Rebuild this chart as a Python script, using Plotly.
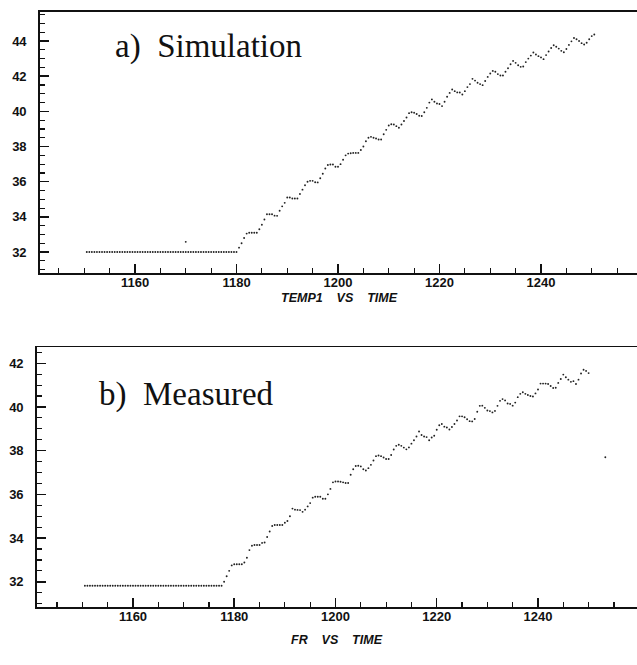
import plotly.graph_objects as go

# ---------------- data ----------------
t0_a = 1150.5
t0_b = 1150.5
dt = 0.5

temp1_flat = [
    32.0, 32.0, 32.0, 32.0, 32.0, 32.0, 32.0, 32.0, 32.0, 32.0,
    32.0, 32.0, 32.0, 32.0, 32.0, 32.0, 32.0, 32.0, 32.0, 32.0,
    32.0, 32.0, 32.0, 32.0, 32.0, 32.0, 32.0, 32.0, 32.0, 32.0,
    32.0, 32.0, 32.0, 32.0, 32.0, 32.0, 32.0, 32.0, 32.0, 32.0,
    32.0, 32.0, 32.0, 32.0, 32.0, 32.0, 32.0, 32.0, 32.0, 32.0,
    32.0, 32.0, 32.0, 32.0, 32.0, 32.0, 32.0, 32.0, 32.0,
]
temp1_rise = [
    32.0, 32.25, 32.5, 32.8, 33.05, 33.1, 33.1, 33.1, 33.1,
    33.3, 33.55, 33.85, 34.15,
    34.15, 34.15, 34.07, 34.06,
    34.35, 34.6, 34.8, 35.1,
    35.1, 35.05, 35.05, 35.05,
    35.3, 35.55, 35.8, 36.0,
    36.05, 36.05, 35.97, 35.96,
    36.2, 36.45, 36.75, 36.95,
    36.98, 36.98, 36.85, 36.85,
    37.0, 37.25, 37.5, 37.6,
    37.62, 37.64, 37.64, 37.64,
    37.8, 38.0, 38.3, 38.5,
    38.55, 38.5, 38.46, 38.4,
    38.4, 38.7, 38.95, 39.2,
    39.27, 39.25, 39.16, 39.07,
    39.25, 39.45, 39.65, 39.9,
    39.95, 39.92, 39.85, 39.75,
    39.74, 39.95, 40.2, 40.5,
    40.68, 40.55, 40.45, 40.42,
    40.3, 40.55, 40.83, 41.05,
    41.24, 41.15, 41.08, 41.07,
    40.96, 41.15, 41.38, 41.55,
    41.85, 41.75, 41.63, 41.55,
    41.49, 41.73, 41.96, 42.15,
    42.3, 42.25, 42.12, 42.04,
    42.04, 42.25, 42.45, 42.68,
    42.87, 42.76, 42.62, 42.53,
    42.55, 42.8, 43.0, 43.17,
    43.35, 43.23, 43.14, 43.07,
    42.97, 43.2, 43.4, 43.6,
    43.76, 43.67, 43.57, 43.44,
    43.36, 43.55, 43.78, 43.98,
    44.17, 44.1, 44.0, 43.88,
    43.8, 43.9, 44.1, 44.28,
    44.37,
]
temp1 = temp1_flat + temp1_rise
spike_a_time = [1170.0]
spike_a_val = [32.58]

fr_flat = [
    31.82, 31.82, 31.82, 31.82, 31.82, 31.82, 31.82, 31.82, 31.82, 31.82,
    31.82, 31.82, 31.82, 31.82, 31.82, 31.82, 31.82, 31.82, 31.82, 31.82,
    31.82, 31.82, 31.82, 31.82, 31.82, 31.82, 31.82, 31.82, 31.82, 31.82,
    31.82, 31.82, 31.82, 31.82, 31.82, 31.82, 31.82, 31.82, 31.82, 31.82,
    31.82, 31.82, 31.82, 31.82, 31.82, 31.82, 31.82, 31.82, 31.82, 31.82,
    31.82, 31.82, 31.82, 31.82, 31.82,
]
fr_rise = [
    32.0, 32.25, 32.5, 32.75, 32.8,
    32.8, 32.8, 32.8, 32.88,
    33.1, 33.45, 33.65, 33.68,
    33.68, 33.68, 33.78, 33.8,
    34.05, 34.3, 34.55, 34.6,
    34.6, 34.6, 34.6, 34.7,
    34.78, 35.0, 35.35, 35.3,
    35.29, 35.28, 35.2, 35.3,
    35.45, 35.6, 35.85, 35.89,
    35.89, 35.89, 35.8, 35.8,
    36.0, 36.25, 36.55, 36.59,
    36.59, 36.58, 36.55, 36.52,
    36.52, 36.9, 37.15, 37.3,
    37.31, 37.28, 37.15, 37.09,
    37.2, 37.35, 37.55, 37.75,
    37.78, 37.75, 37.69, 37.62,
    37.62, 37.8, 38.05, 38.22,
    38.27, 38.22, 38.14, 38.06,
    38.15, 38.32, 38.48, 38.65,
    38.88, 38.72, 38.65, 38.62,
    38.48, 38.6, 38.68, 38.96,
    39.16, 39.22, 39.1, 39.06,
    38.97, 39.08, 39.22, 39.38,
    39.57, 39.57, 39.53, 39.44,
    39.35, 39.34, 39.45, 39.78,
    40.05, 40.06, 39.96, 39.84,
    39.81, 39.75, 39.82, 40.05,
    40.28, 40.36, 40.3, 40.16,
    40.14, 40.06, 40.2, 40.45,
    40.6, 40.67, 40.6, 40.55,
    40.5, 40.48, 40.62, 40.8,
    41.07, 41.07, 41.07, 41.05,
    40.96, 40.87, 40.88, 41.1,
    41.28, 41.48, 41.36, 41.25,
    41.15, 41.18, 41.05, 41.25,
    41.53, 41.7, 41.65, 41.55,
]
fr = fr_flat + fr_rise
spike_b_time = [1253.3]
spike_b_val = [37.7]

time_a = [t0_a + dt * i for i in range(len(temp1))]
time_b = [t0_b + dt * i for i in range(len(fr))]

x_ticks = [1160, 1180, 1200, 1220, 1240]
y_ticks_a = [32, 34, 36, 38, 40, 42, 44]
y_ticks_b = [32, 34, 36, 38, 40, 42]

# ---------------- figure ----------------
# the plot areas run a little past the right edge of the window, as in the scan
W, H = 650, 665
mk = dict(size=1.9, color="#222222")

fig = go.Figure()
fig.add_trace(go.Scatter(x=time_a, y=temp1, mode="markers", marker=mk,
                         xaxis="x", yaxis="y", showlegend=False, hoverinfo="skip"))
fig.add_trace(go.Scatter(x=spike_a_time, y=spike_a_val, mode="markers", marker=mk,
                         xaxis="x", yaxis="y", showlegend=False, hoverinfo="skip"))
fig.add_trace(go.Scatter(x=time_b, y=fr, mode="markers", marker=mk,
                         xaxis="x2", yaxis="y2", showlegend=False, hoverinfo="skip"))
fig.add_trace(go.Scatter(x=spike_b_time, y=spike_b_val, mode="markers", marker=mk,
                         xaxis="x2", yaxis="y2", showlegend=False, hoverinfo="skip"))

tickfont = dict(family="Liberation Sans, Arial, sans-serif", size=13, color="#111111")


def bold(vals):
    return ["<b>%d</b>" % v for v in vals]


def xax(domain, rng, anchor):
    return dict(domain=domain, range=rng, anchor=anchor,
                tickvals=x_ticks, ticktext=bold(x_ticks),
                ticks="inside", ticklen=9, tickwidth=1.5,
                tickcolor="#111", showline=True, linecolor="#111", linewidth=1.8,
                mirror=True, showgrid=False, zeroline=False, tickfont=tickfont,
                ticklabelstandoff=-3, showspikes=False,
                minor=dict(dtick=5, ticks="inside", ticklen=5, tickwidth=1.2,
                           tickcolor="#111", showgrid=False))


def yax(domain, rng, anchor, vals):
    return dict(domain=domain, range=rng, anchor=anchor,
                tickvals=vals, ticktext=bold(vals),
                ticks="inside", ticklen=9, tickwidth=1.5,
                tickcolor="#111", showline=True, linecolor="#111", linewidth=1.8,
                showgrid=False, zeroline=False, tickfont=tickfont,
                ticklabelstandoff=9, showspikes=False,
                minor=dict(dtick=0.5, ticks="inside", ticklen=5, tickwidth=1.2,
                           tickcolor="#111", showgrid=False))


# right end of the visible range is at x = 637 px; axis extended to 650 px
ra = 1240 + (650 - 541) / 5.075
rb = 1240 + (650 - 538) / 5.0625

fig.update_layout(
    width=W, height=H,
    margin=dict(l=0, r=0, t=0, b=0),
    paper_bgcolor="white", plot_bgcolor="white",
    hovermode=False, dragmode=False,
    xaxis=xax([40 / W, 1.0], [1141.28, ra], "y"),
    yaxis=yax([1 - 273 / H, 1 - 12 / H], [30.81, 45.65], "x", y_ticks_a),
    xaxis2=xax([37 / W, 1.0], [1141.04, rb], "y2"),
    yaxis2=yax([1 - 606.7 / H, 1 - 347.3 / H], [30.86, 42.73], "x2", y_ticks_b),
)

serif = dict(family="Liberation Serif, Times New Roman, serif", size=33, color="#111")
lab = dict(family="Liberation Sans, Arial, sans-serif", size=12.5, color="#111")

fig.add_annotation(text="a)&nbsp;&nbsp;Simulation", xref="paper", yref="paper",
                   x=113 / W, y=1 - 46 / H, xanchor="left", yanchor="middle",
                   showarrow=False, font=serif)
fig.add_annotation(text="b)&nbsp;&nbsp;Measured", xref="paper", yref="paper",
                   x=97 / W, y=1 - 394 / H, xanchor="left", yanchor="middle",
                   showarrow=False, font=serif)
fig.add_annotation(text="<b><i>TEMP1&nbsp;&nbsp;&nbsp;&nbsp;VS&nbsp;&nbsp;&nbsp;&nbsp;TIME</i></b>",
                   xref="paper", yref="paper",
                   x=339 / W, y=1 - 298 / H, xanchor="center", yanchor="middle",
                   showarrow=False, font=lab)
fig.add_annotation(text="<b><i>FR&nbsp;&nbsp;&nbsp;&nbsp;VS&nbsp;&nbsp;&nbsp;&nbsp;TIME</i></b>",
                   xref="paper", yref="paper",
                   x=337 / W, y=1 - 640 / H, xanchor="center", yanchor="middle",
                   showarrow=False, font=lab)

fig.write_html(
    "out.html",
    config={"displayModeBar": False, "staticPlot": True},
    post_script="document.body.style.margin='0';document.body.style.overflow='hidden';",
)
